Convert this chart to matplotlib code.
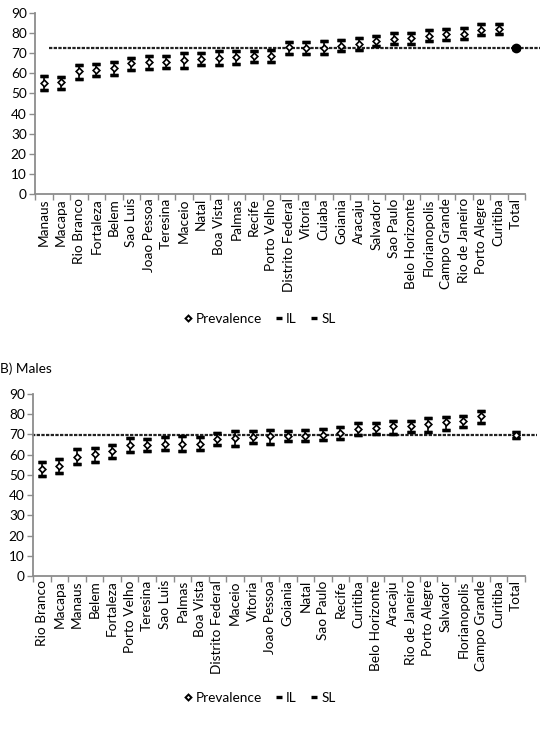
import matplotlib
matplotlib.use("Agg")
import matplotlib.pyplot as plt
from matplotlib.lines import Line2D
import numpy as np

plt.rcParams['font.family'] = ['Lato', 'DejaVu Sans']

# ---- A) top chart data ----
cities_a = ["Manaus", "Macapa", "Rio Branco", "Fortaleza", "Belem", "Sao Luis",
            "Joao Pessoa", "Teresina", "Maceio", "Natal", "Boa Vista", "Palmas",
            "Recife", "Porto Velho", "Distrito Federal", "Vitoria", "Cuiaba",
            "Goiania", "Aracaju", "Salvador", "Sao Paulo", "Belo Horizonte",
            "Florianopolis", "Campo Grande", "Rio de Janeiro", "Porto Alegre",
            "Curitiba", "Total"]
prev_a = [55.2, 55.7, 61.0, 61.7, 62.5, 65.0, 65.5, 65.8, 66.6, 67.0, 67.6, 68.1,
          68.6, 68.8, 72.9, 72.6, 72.6, 73.8, 74.6, 76.1, 77.2, 77.6, 78.7, 79.4,
          79.7, 81.6, 82.0, 72.8]
il_a = [51.5, 52.4, 57.4, 58.7, 59.0, 61.8, 62.3, 62.7, 62.7, 64.3, 64.3, 64.6,
        65.6, 65.5, 69.8, 69.5, 69.5, 71.3, 71.4, 73.4, 74.4, 74.8, 75.9, 76.4,
        76.9, 79.1, 79.7, 72.3]
sl_a = [58.8, 58.3, 64.1, 64.6, 65.5, 67.6, 68.5, 68.5, 70.1, 70.1, 70.9, 70.9,
        71.1, 71.4, 75.4, 75.7, 76.2, 76.6, 77.6, 78.6, 79.9, 80.2, 81.4, 82.2,
        82.4, 84.7, 84.7, 73.3]
ref_a = 72.8

# ---- B) Males data (None = no value) ----
cities_b = ["Rio Branco", "Macapa", "Manaus", "Belem", "Fortaleza", "Porto Velho",
            "Teresina", "Sao Luis", "Palmas", "Boa Vista", "Distrito Federal",
            "Maceio", "Vitoria", "Joao Pessoa", "Goiania", "Natal", "Sao Paulo",
            "Recife", "Curitiba", "Belo Horizonte", "Aracaju", "Rio de Janeiro",
            "Porto Alegre", "Salvador", "Florianopolis", "Campo Grande", "Curitiba",
            "Total"]
prev_b = [53.1, 54.4, 59.0, 60.2, 62.0, 64.8, 64.8, 65.4, 65.4, 65.4, 67.9, 68.2,
          68.6, 69.1, 69.2, 69.2, 69.9, 70.7, 72.9, 73.3, 74.2, 74.2, 75.2, 76.0,
          76.8, 79.0, None, 69.6]
il_b = [49.4, 51.1, 55.2, 56.5, 58.2, 61.5, 62.0, 62.3, 62.0, 62.3, 64.6, 64.4,
        65.6, 65.4, 66.6, 66.6, 67.2, 67.6, 69.6, 70.4, 70.1, 71.4, 71.4, 72.0,
        73.7, 75.8, None, 68.2]
sl_b = [56.5, 57.7, 63.0, 63.5, 64.8, 68.4, 67.9, 68.6, 69.1, 68.9, 70.5, 71.9,
        71.5, 72.2, 71.9, 72.4, 72.5, 73.7, 75.7, 75.7, 76.5, 76.6, 78.0, 78.6,
        79.1, 81.8, None, 71.0]
ref_b = 69.6

yticks = [0, 10, 20, 30, 40, 50, 60, 70, 80, 90]
AX_COL = "#8c8c8c"
FS = 9.8

fig = plt.figure(figsize=(5.44, 7.43), dpi=100)


def draw(ax, cities, prev, il, sl, ref, ref_x, total_filled):
    n = len(cities)
    x = np.arange(n)
    for i in range(n):
        if prev[i] is None:
            continue
        is_total = (i == n - 1)
        ax.plot([x[i], x[i]], [il[i], sl[i]], color="black", lw=1.2, zorder=3)
        ax.plot([x[i], x[i]], [il[i], il[i]], marker="_", ms=5.5, mew=2.4,
                color="black", zorder=3)
        ax.plot([x[i], x[i]], [sl[i], sl[i]], marker="_", ms=5.5, mew=2.4,
                color="black", zorder=3)
        if is_total and total_filled:
            ax.plot(x[i], prev[i], marker="o", ms=6, color="black", zorder=5)
        else:
            ax.plot(x[i], prev[i], marker="D", ms=3.4, mfc="white",
                    mec="black", mew=1.2, zorder=5)
    ax.plot(ref_x, [ref, ref], color="#222222", lw=1.6,
            linestyle=(0, (1.5, 0.6)), clip_on=False, zorder=2)
    ax.set_xlim(-0.5, n - 0.5)
    ax.set_ylim(0, 90)
    ax.set_yticks(yticks)
    ax.set_xticks(x)
    ax.set_xticklabels(cities, rotation=90, fontsize=FS)
    ax.set_xticks(np.arange(-0.5, n, 1.0), minor=True)
    ax.tick_params(axis="x", which="major", length=0, pad=3)
    ax.tick_params(axis="x", which="minor", length=4, color=AX_COL, width=1)
    ax.tick_params(axis="y", length=4, color=AX_COL, width=1, labelsize=FS,
                   pad=2)
    for s in ["top", "right"]:
        ax.spines[s].set_visible(False)
    for s in ["left", "bottom"]:
        ax.spines[s].set_color(AX_COL)
        ax.spines[s].set_linewidth(1.3)


def legend(fig, y):
    handles = [
        Line2D([], [], marker="D", ms=3.0, mfc="white", mec="black", mew=1.4,
               lw=0),
        Line2D([], [], marker="_", ms=5, mew=2.4, color="black", lw=0),
        Line2D([], [], marker="_", ms=5, mew=2.4, color="black", lw=0),
    ]
    fig.legend(handles, ["Prevalence", "IL", "SL"], loc="center",
               bbox_to_anchor=(0.478, y), ncol=3, frameon=False, fontsize=FS,
               handlelength=0.5, handletextpad=0.3, columnspacing=1.0)


ax1 = fig.add_axes([35 / 544, 1 - 194 / 743, 490 / 544, 181 / 743])
draw(ax1, cities_a, prev_a, il_a, sl_a, ref_a, [0.3, 28.35], True)
legend(fig, 1 - 319 / 743)

fig.text(0.0, 1 - 369 / 743, "B) Males", fontsize=FS, va="center", ha="left")

ax2 = fig.add_axes([33 / 544, 1 - 576 / 743, 492 / 544, 182 / 743])
draw(ax2, cities_b, prev_b, il_b, sl_b, ref_b, [-0.55, 28.2], False)
legend(fig, 1 - 698 / 743)

fig.savefig("out.png", dpi=100)
